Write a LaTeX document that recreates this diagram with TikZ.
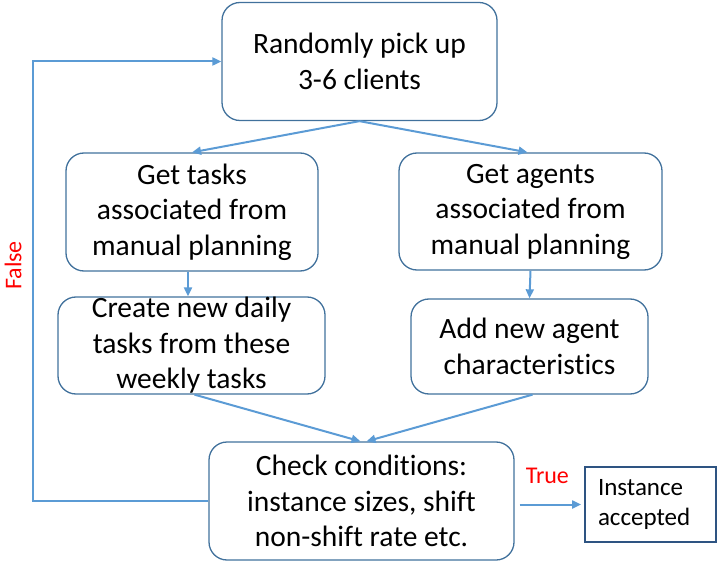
\documentclass[tikz,border=0pt]{standalone}
\usepackage{fontspec}
\setmainfont[Ligatures=NoCommon]{Carlito}
\usetikzlibrary{arrows.meta}
\definecolor{lineblue}{RGB}{91,155,213}
\definecolor{boxblue}{RGB}{65,113,156}
\definecolor{darkblue}{RGB}{46,84,130}
\tikzset{
  stepbox/.style={draw=boxblue, line width=1.3pt, rounded corners=18pt, align=center,
    inner sep=0pt, font=\fontsize{29.5}{35.5}\selectfont},
  flow/.style={draw=lineblue, line width=2pt, -{Triangle[length=9pt,width=8pt]}},
  lbl/.style={text=red, font=\fontsize{24}{28}\selectfont}
}
\begin{document}
\begin{tikzpicture}[x=1pt,y=-1pt]
  \useasboundingbox (0,0) rectangle (717,561);
  \node[stepbox, minimum width=275pt, minimum height=118pt] (pick) at (359.5,61.5)
    {Randomly pick up\\3-6 clients};
  \node[stepbox, minimum width=252pt, minimum height=118pt] (tasks) at (192,212)
    {Get tasks\\associated from\\manual planning};
  \node[stepbox, minimum width=263pt, minimum height=117pt] (agents) at (530.5,211.5)
    {Get agents\\associated from\\manual planning};
  \node[stepbox, minimum width=267pt, minimum height=97pt] (daily) at (191.5,345.5)
    {Create new daily\\tasks from these\\weekly tasks};
  \node[stepbox, minimum width=237pt, minimum height=95pt] (chars) at (529.5,346.5)
    {Add new agent\\characteristics};
  \node[stepbox, minimum width=305pt, minimum height=118pt] (check) at (361.5,501)
    {Check conditions:\\instance sizes, shift\\non-shift rate etc.};
  \node[draw=darkblue, line width=1.8pt, minimum width=131pt, minimum height=75pt,
    text width=105pt, align=left, inner sep=0pt, font=\fontsize{25}{30}\selectfont]
    (accept) at (650.5,504.5) {Instance\\accepted};
  \coordinate (corner) at (33,501);
  \begin{scope}
    \draw[flow] (pick.south) -- (tasks.north);
    \draw[flow] (pick.south) -- ([xshift=-3pt]agents.north);
    \draw[flow] ([xshift=-4pt]tasks.south) -- ([xshift=-4pt]tasks.south |- daily.north);
    \draw[flow] (agents.south) -- (chars.north);
    \draw[flow] ([xshift=3pt]daily.south) -- ([xshift=-1pt]check.north);
    \draw[flow] ([xshift=3pt]chars.south) -- ([xshift=5pt]check.north);
    \draw[flow] ([xshift=5pt]check.east |- accept.west) -- ([xshift=-3pt]accept.west)
      node[lbl, midway, above=16pt, xshift=-3pt] {True};
    \draw[flow] (check.west) -- (corner) |- (pick.west)
      node[lbl, pos=0.268, rotate=90, above=7pt] {False};
  \end{scope}
\end{tikzpicture}
\end{document}
